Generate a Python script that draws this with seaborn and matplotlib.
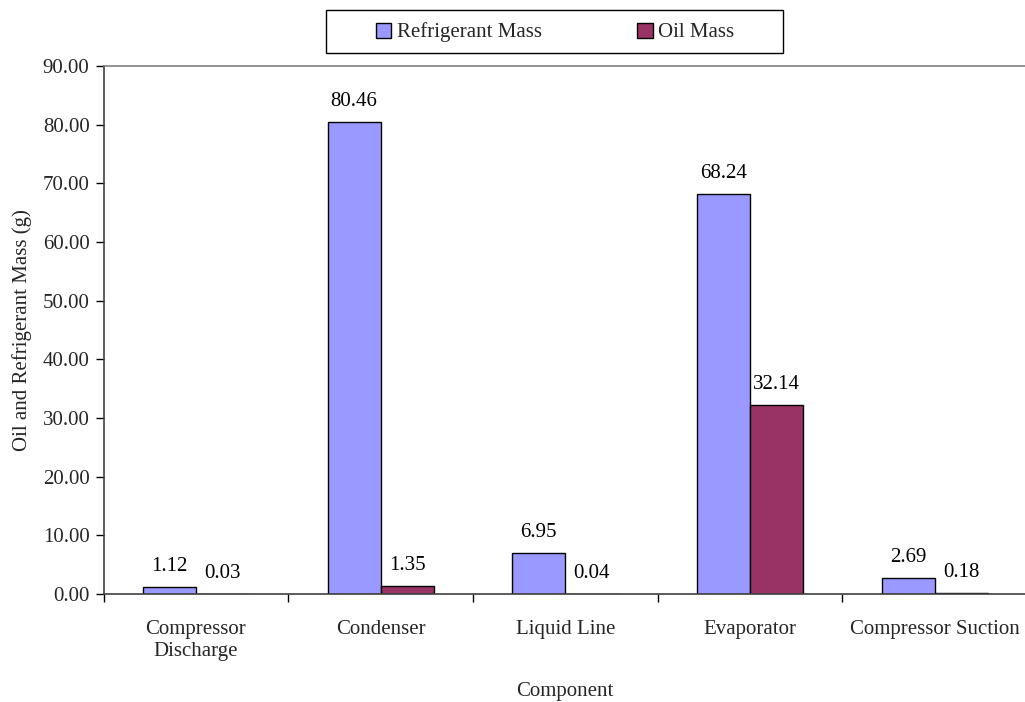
import matplotlib
matplotlib.use("Agg")
import matplotlib.pyplot as plt
from matplotlib.patches import Patch, Rectangle
import seaborn as sns
import pandas as pd
import numpy as np

components = ["Compressor\nDischarge", "Condenser", "Liquid Line", "Evaporator", "Compressor Suction"]
refrigerant_mass = [1.12, 80.46, 6.95, 68.24, 2.69]
oil_mass = [0.03, 1.35, 0.04, 32.14, 0.18]
series_names = ["Refrigerant Mass", "Oil Mass"]
colors = ["#9999FF", "#993366"]

df = pd.DataFrame({
    "Component": components * 2,
    "Mass": refrigerant_mass + oil_mass,
    "Series": [series_names[0]] * len(components) + [series_names[1]] * len(components),
})

sns.set_theme(style="white")
plt.rcParams["font.family"] = ["Liberation Serif", "DejaVu Serif"]

fig = plt.figure(figsize=(10.25, 7.02), dpi=100)
W, H = 1025, 702
ax = fig.add_axes([103.5 / W, (H - 594) / H, 923.5 / W, (594 - 66) / H])

sns.barplot(data=df, x="Component", y="Mass", hue="Series", palette=colors,
            width=0.574, edgecolor="black", linewidth=1.0, ax=ax, legend=False,
            saturation=1)

for cont in ax.containers:
    ax.bar_label(cont, fmt="%.2f", padding=8, fontsize=15, color="black")

ax.set_ylim(0, 90)
ax.set_xlim(-0.5, len(components) - 0.5)
ax.set_yticks(np.arange(0, 91, 10))
ax.set_yticklabels([f"{v:.2f}" for v in np.arange(0, 91, 10)], fontsize=15)

ax.set_xticks(np.arange(-0.5, len(components) + 0.5, 1.0))
ax.set_xticklabels([])
ax.set_xticks(np.arange(len(components)), minor=True)
ax.set_xticklabels(components, minor=True, fontsize=15, linespacing=1.2)
ax.tick_params(axis="x", which="minor", length=0, pad=19)
ax.tick_params(axis="x", which="major", length=6, width=1, color="black", direction="out", bottom=True)
ax.tick_params(axis="y", length=6, width=1, color="black", direction="out", left=True, pad=4)

ax.set_xlabel("Component", fontsize=15, labelpad=15)
ax.set_ylabel("Oil and Refrigerant Mass (g)", fontsize=15, labelpad=8)

for s in ["left", "bottom"]:
    ax.spines[s].set_color("#404040")
    ax.spines[s].set_linewidth(1.2)
ax.spines["top"].set_color("#808080")
ax.spines["top"].set_linewidth(1.2)
ax.spines["right"].set_visible(False)
ax.grid(False)

# legend frame
fig.add_artist(Rectangle((326 / W, 1 - 53 / H), 457 / W, 43 / H, transform=fig.transFigure,
                         facecolor="white", edgecolor="black", linewidth=1.0, zorder=5))
handles = [Patch(facecolor=c, edgecolor="black", linewidth=1.0) for c in colors]
leg = fig.legend(handles, series_names, loc="center",
                 bbox_to_anchor=(555 / W, 1 - 32.5 / H),
                 ncol=2, fontsize=15, frameon=False,
                 handlelength=0.75, handleheight=0.75,
                 handletextpad=0.25, columnspacing=4.6, borderaxespad=0, borderpad=0)
leg.set_zorder(6)

fig.savefig("out.png", dpi=100, facecolor="white")
